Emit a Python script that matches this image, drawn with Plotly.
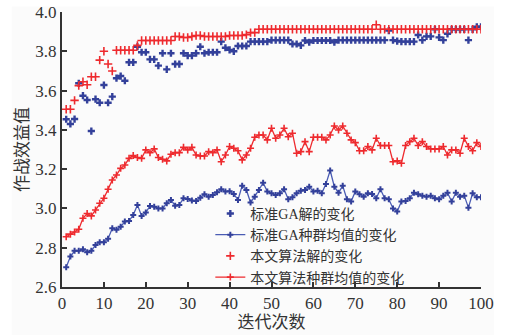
import plotly.graph_objects as go

iters = list(range(1, 101))

# 标准GA解的变化 (blue scatter)
ga_best = [3.454, 3.43, 3.455, 3.637, 3.574, 3.552, 3.394, 3.556, 3.538, 3.628,
           3.538, 3.569, 3.663, 3.674, 3.65, 3.744, 3.744, 3.823, 3.795, 3.795,
           3.759, 3.759, 3.727, 3.79, 3.708, 3.79, 3.735, 3.735, 3.79, 3.778,
           3.778, 3.79, 3.823, 3.79, 3.795, 3.795, 3.795, 3.849, 3.818, 3.807,
           3.80, 3.827, 3.827, 3.827, 3.849, 3.849, 3.849, 3.849, 3.849, 3.857,
           3.857, 3.857, 3.857, 3.857, 3.837, 3.837, 3.83, 3.855, 3.846, 3.855,
           3.855, 3.855, 3.855, 3.855, 3.846, 3.857, 3.857, 3.857, 3.857, 3.857,
           3.857, 3.857, 3.857, 3.857, 3.857, 3.857, 3.857, 3.905, 3.857, 3.852,
           3.849, 3.849, 3.849, 3.849, 3.883, 3.857, 3.876, 3.876, 3.912, 3.871,
           3.857, 3.889, 3.912, 3.912, 3.912, 3.912, 3.857, 3.912, 3.925, 3.925]

# 标准GA种群均值的变化 (blue line)
ga_mean = [2.701, 2.755, 2.784, 2.784, 2.792, 2.777, 2.784, 2.814, 2.828, 2.828,
           2.846, 2.899, 2.891, 2.907, 2.933, 2.936, 2.967, 3.018, 2.962, 2.979,
           3.013, 3.009, 3.0, 3.0, 3.026, 3.043, 3.014, 3.018, 3.052, 3.048,
           3.04, 3.038, 3.055, 3.072, 3.06, 3.068, 3.082, 3.098, 3.086, 3.088,
           3.074, 3.043, 3.116, 3.094, 3.03, 3.06, 3.094, 3.131, 3.086, 3.077,
           3.069, 3.077, 3.098, 3.047, 3.057, 3.077, 3.09, 3.094, 3.111, 3.086,
           3.09, 3.077, 3.125, 3.193, 3.111, 3.08, 3.115, 3.047, 3.035, 3.086,
           3.072, 3.06, 3.077, 3.074, 3.052, 3.098, 3.052, 3.047, 3.0, 2.984,
           3.035, 3.038, 3.052, 3.08, 3.072, 3.065, 3.06, 3.065, 3.052, 3.047,
           3.065, 3.08, 3.035, 3.08, 3.06, 3.065, 3.004, 3.077, 3.057, 3.057]

# 本文算法解的变化 (red scatter)
new_best = [3.505, 3.505, 3.55, 3.625, 3.645, 3.63, 3.67, 3.67, 3.755, 3.80,
            3.735, 3.70, 3.805, 3.805, 3.805, 3.805, 3.805, 3.83, 3.855, 3.855,
            3.855, 3.855, 3.855, 3.855, 3.855, 3.855, 3.875, 3.875, 3.87, 3.87,
            3.875, 3.88, 3.88, 3.875, 3.875, 3.875, 3.875, 3.875, 3.875, 3.88,
            3.88, 3.88, 3.88, 3.885, 3.895, 3.895, 3.912, 3.912, 3.912, 3.912,
            3.912, 3.912, 3.912, 3.912, 3.912, 3.912, 3.912, 3.912, 3.912, 3.912,
            3.912, 3.912, 3.912, 3.912, 3.912, 3.912, 3.912, 3.912, 3.912, 3.912,
            3.912, 3.912, 3.912, 3.912, 3.935, 3.912, 3.912, 3.912, 3.912, 3.912,
            3.912, 3.912, 3.912, 3.912, 3.912, 3.912, 3.912, 3.912, 3.912, 3.912,
            3.912, 3.912, 3.912, 3.912, 3.912, 3.912, 3.912, 3.912, 3.912, 3.912]

# 本文算法种群均值的变化 (red line)
new_mean = [2.856, 2.869, 2.88, 2.894, 2.95, 2.974, 2.962, 2.992, 3.026, 3.052,
            3.098, 3.145, 3.17, 3.204, 3.221, 3.255, 3.269, 3.259, 3.255, 3.298,
            3.284, 3.303, 3.259, 3.25, 3.242, 3.276, 3.284, 3.284, 3.311, 3.298,
            3.311, 3.272, 3.267, 3.267, 3.289, 3.284, 3.298, 3.238, 3.272, 3.315,
            3.306, 3.294, 3.247, 3.272, 3.306, 3.362, 3.374, 3.374, 3.349, 3.408,
            3.357, 3.374, 3.408, 3.365, 3.383, 3.281, 3.289, 3.34, 3.289, 3.362,
            3.362, 3.362, 3.349, 3.374, 3.42, 3.399, 3.42, 3.383, 3.349, 3.335,
            3.294, 3.294, 3.315, 3.298, 3.357, 3.32, 3.32, 3.32, 3.238, 3.242,
            3.23, 3.32, 3.34, 3.357, 3.32, 3.34, 3.315, 3.303, 3.303, 3.303,
            3.315, 3.272, 3.298, 3.298, 3.281, 3.357, 3.315, 3.294, 3.335, 3.315]

x_ticks = [0, 10, 20, 30, 40, 50, 60, 70, 80, 90, 100]
y_ticks = [2.6, 2.8, 3.0, 3.2, 3.4, 3.6, 3.8, 4.0]

BLUE = "#33409a"
BLUE_LINE = "#4a5cb4"
RED = "#ee2a2e"

fig = go.Figure()
fig.add_trace(go.Scatter(
    x=iters, y=ga_best, mode="markers", name="标准GA解的变化",
    marker=dict(symbol="cross", size=6, color=BLUE)))
fig.add_trace(go.Scatter(
    x=iters, y=ga_mean, mode="lines+markers", name="标准GA种群均值的变化",
    line=dict(color=BLUE_LINE, width=1.3),
    marker=dict(symbol="cross", size=5, color=BLUE)))
fig.add_trace(go.Scatter(
    x=iters, y=new_best, mode="markers", name="本文算法解的变化",
    marker=dict(symbol="cross-thin", size=6, color=RED,
                line=dict(color=RED, width=1.6))))
fig.add_trace(go.Scatter(
    x=iters, y=new_mean, mode="lines+markers", name="本文算法种群均值的变化",
    line=dict(color=RED, width=1.3),
    marker=dict(symbol="cross-thin", size=5, color=RED,
                line=dict(color=RED, width=1.6))))

tickfont = dict(family="Liberation Serif, Times New Roman, serif", size=17, color="#333")
cjk = "Liberation Serif, Noto Sans CJK SC, serif"

fig.update_layout(
    template="none",
    width=507, height=335,
    margin=dict(l=62, r=26, t=12, b=48, autoexpand=False),
    paper_bgcolor="white",
    plot_bgcolor="#fbfbfb",
    showlegend=True,
    legend=dict(x=0.354, y=0.324, xanchor="left", yanchor="top",
                bgcolor="rgba(0,0,0,0)", borderwidth=0,
                font=dict(family=cjk, size=14, color="#333"),
                tracegroupgap=0, itemwidth=30),
    shapes=[dict(type="rect", xref="paper", yref="paper", x0=-0.12, x1=1.031,
                 y0=-0.2, y1=1.02, fillcolor="#fbfbfb", line=dict(width=0),
                 layer="below")],
)
fig.update_xaxes(range=[0, 100], tickvals=x_ticks, ticks="inside", ticklen=5,
                 tickwidth=1.5, tickcolor="#333", showline=True, linecolor="#333",
                 linewidth=2, showgrid=False, zeroline=False, tickfont=tickfont,
                 automargin=False, ticklabeloverflow="allow",
                 title=dict(text="迭代次数", font=dict(family=cjk, size=17, color="#333"),
                            standoff=4))
fig.update_yaxes(range=[2.6, 4.0], tickvals=y_ticks, tickformat=".1f", ticks="inside",
                 ticklen=5, tickwidth=1.5, tickcolor="#333", showline=True,
                 linecolor="#333", linewidth=2, showgrid=False, zeroline=False,
                 tickfont=tickfont, automargin=False, ticklabeloverflow="allow",
                 title=dict(text="作战效益值", font=dict(family=cjk, size=17, color="#333"),
                            standoff=2))

# remove the default 8px page margin so the figure sits at the window's corner
fig.write_html("out.html", config={"displayModeBar": False},
               post_script="document.body.style.margin='0';")
